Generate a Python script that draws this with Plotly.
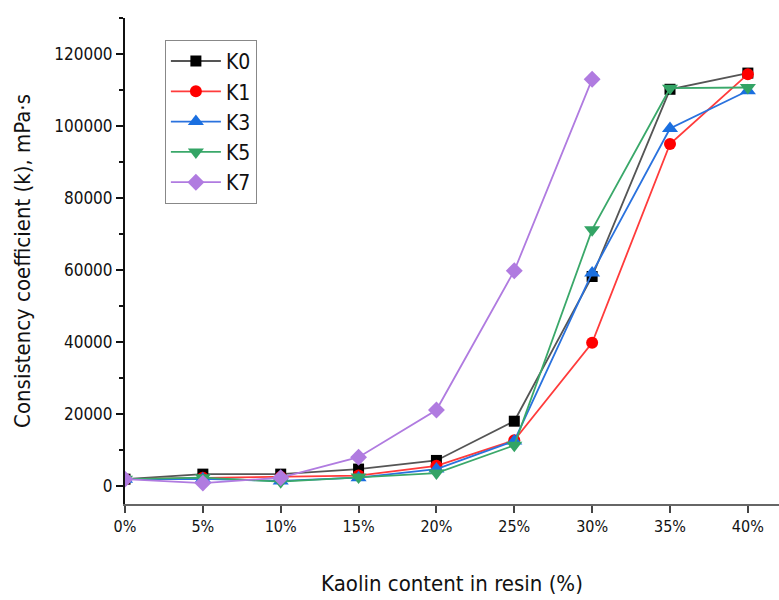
import plotly.graph_objects as go

x_pct = [0, 5, 10, 15, 20, 25, 30, 35, 40]
x_labels = ["0%", "5%", "10%", "15%", "20%", "25%", "30%", "35%", "40%"]

K0 = [1900, 3300, 3300, 4700, 7100, 18000, 58200, 110200, 114700]
K1 = [1900, 2300, 2500, 2900, 5600, 12700, 39800, 95000, 114400]
K3 = [1900, 2000, 1400, 2300, 4700, 12500, 59200, 99300, 109800]
K5 = [1900, 2300, 1200, 2500, 3600, 11300, 71200, 110500, 110700]
K7 = [1900, 800, 2300, 8000, 21100, 59800, 113000]
x_K7 = [0, 5, 10, 15, 20, 25, 30]

FONT = "DejaVu Sans Condensed, Liberation Sans Narrow, Roboto, sans-serif"

series = [
    ("K0", x_pct, K0, "#555555", "#000000", "square", 11),
    ("K1", x_pct, K1, "#ff3b3b", "#ff0000", "circle", 12),
    ("K3", x_pct, K3, "#2a72de", "#1a6fe0", "triangle-up", 14),
    ("K5", x_pct, K5, "#3aa86a", "#33a465", "triangle-down", 14),
    ("K7", x_K7, K7, "#b07be0", "#b07be0", "diamond", 13),
]

fig = go.Figure()
for name, xs, ys, lc, mc, sym, sz in series:
    fig.add_trace(go.Scatter(
        x=xs, y=ys, name=name, mode="lines+markers",
        line=dict(color=lc, width=1.8),
        marker=dict(symbol=sym, size=sz, color=mc, line=dict(width=0)),
    ))

fig.update_layout(
    width=779, height=600,
    paper_bgcolor="white", plot_bgcolor="white",
    margin=dict(l=125, r=0, t=18, b=96),
    font=dict(family=FONT, size=17, color="#111111"),
    showlegend=True,
    legend=dict(
        x=0.061, y=0.955, xanchor="left", yanchor="top",
        bordercolor="#888888", borderwidth=1, bgcolor="white",
        font=dict(size=21, color="#111111"),
        itemwidth=50, tracegroupgap=0,
    ),
)

fig.update_xaxes(
    range=[0, 42], tickmode="array", tickvals=x_pct, ticktext=x_labels,
    showline=True, linecolor="#666666", linewidth=2,
    ticks="outside", ticklen=7, tickwidth=2, tickcolor="#444444",
    showgrid=False, zeroline=False, automargin=False,
    title=dict(text="Kaolin content in resin (%)", font=dict(size=22), standoff=40),
    tickfont=dict(size=16),
)
fig.update_yaxes(
    range=[-5000, 130000], tickvals=[0, 20000, 40000, 60000, 80000, 100000, 120000],
    ticktext=["0", "20000", "40000", "60000", "80000", "100000", "120000"],
    showline=True, linecolor="#111111", linewidth=2,
    ticks="outside", ticklen=7, tickwidth=2, tickcolor="#111111",
    minor=dict(ticks="outside", ticklen=4, tickwidth=1.5, tickcolor="#111111", dtick=10000, tick0=0),
    showgrid=False, zeroline=False, automargin=False,
    title=dict(text="Consistency coefficient (k), mPa·s", font=dict(size=22), standoff=18),
    tickfont=dict(size=17),
)

fig.write_html("out.html", config={"displayModeBar": False},
               post_script="document.body.style.margin='0';")
